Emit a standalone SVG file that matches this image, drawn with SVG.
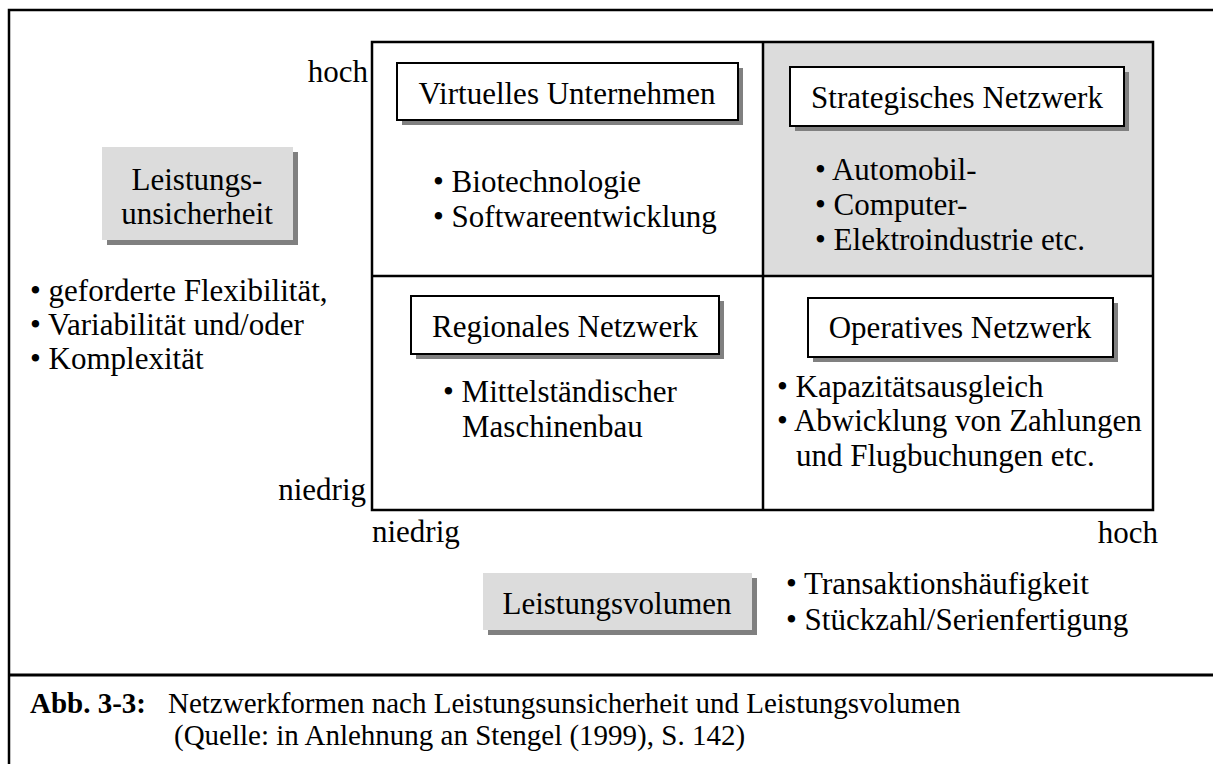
<svg xmlns="http://www.w3.org/2000/svg" width="1213" height="764" viewBox="0 0 1213 764">
<style>
text{font-family:"Liberation Serif","Times New Roman",serif;font-size:31px;fill:#000}
.c{text-anchor:middle}
.r{text-anchor:end}
.cap{font-size:29px}
.b{font-weight:bold}
.box{fill:#fff;stroke:#000;stroke-width:2}
.gbox{fill:#dcdcdc;stroke:none}
.sh{fill:#808080}
.ln{stroke:#000;stroke-width:2.5;fill:none}
</style>
<rect width="1213" height="764" fill="#fff"/>
<g id="frame">
<path class="ln" d="M9,764 V10 H1213"/>
<line x1="9" y1="675" x2="1213" y2="675" stroke="#000" stroke-width="3"/>
</g>
<g id="grid">
<rect x="763" y="42" width="390" height="234" fill="#dcdcdc"/>
<rect class="ln" x="372" y="42" width="781" height="468"/>
<line class="ln" x1="763" y1="42" x2="763" y2="510"/>
<line class="ln" x1="372" y1="276" x2="1153" y2="276"/>
</g>
<g id="axis-labels">
<text class="r" x="368" y="82">hoch</text>
<text class="r" x="366" y="500">niedrig</text>
<text x="372" y="542">niedrig</text>
<text class="r" x="1158" y="543">hoch</text>
</g>
<g id="leistungsunsicherheit">
<rect class="sh" x="107" y="152" width="191" height="93"/>
<rect class="gbox" x="102" y="147" width="191" height="93"/>
<text class="c" x="197" y="190">Leistungs-</text>
<text class="c" x="197" y="224">unsicherheit</text>
</g>
<g id="unsicherheit-list">
<text x="30" y="301">• geforderte Flexibilität,</text>
<text x="30" y="335">• Variabilität und/oder</text>
<text x="30" y="369">• Komplexität</text>
</g>
<g id="virtuelles-unternehmen">
<rect class="sh" x="402" y="68" width="341" height="57"/>
<rect class="box" x="397" y="63" width="341" height="57"/>
<text class="c" x="567" y="104">Virtuelles Unternehmen</text>
<text x="433" y="192">• Biotechnologie</text>
<text x="433" y="227">• Softwareentwicklung</text>
</g>
<g id="strategisches-netzwerk">
<rect class="sh" x="795" y="72" width="334" height="59"/>
<rect class="box" x="790" y="67" width="334" height="59"/>
<text class="c" x="957" y="108">Strategisches Netzwerk</text>
<text x="815" y="180">• Automobil-</text>
<text x="815" y="215">• Computer-</text>
<text x="815" y="250">• Elektroindustrie etc.</text>
</g>
<g id="regionales-netzwerk">
<rect class="sh" x="416" y="301" width="308" height="58"/>
<rect class="box" x="411" y="296" width="308" height="58"/>
<text class="c" x="565" y="337">Regionales Netzwerk</text>
<text x="443" y="402">• Mittelständischer</text>
<text x="462" y="437">Maschinenbau</text>
</g>
<g id="operatives-netzwerk">
<rect class="sh" x="813" y="303" width="305" height="59"/>
<rect class="box" x="808" y="298" width="305" height="59"/>
<text class="c" x="960" y="338">Operatives Netzwerk</text>
<text x="777" y="397">• Kapazitätsausgleich</text>
<text x="777" y="431">• Abwicklung von Zahlungen</text>
<text x="796" y="466">und Flugbuchungen etc.</text>
</g>
<g id="leistungsvolumen">
<rect class="sh" x="488" y="578" width="269" height="57"/>
<rect class="gbox" x="483" y="573" width="269" height="57"/>
<text class="c" x="617" y="614">Leistungsvolumen</text>
</g>
<g id="volumen-list">
<text x="786" y="594">• Transaktionshäufigkeit</text>
<text x="786" y="630">• Stückzahl/Serienfertigung</text>
</g>
<g id="caption">
<text class="cap" x="30" y="713"><tspan class="b">Abb. 3-3:</tspan><tspan x="168">Netzwerkformen nach Leistungsunsicherheit und Leistungsvolumen</tspan></text>
<text class="cap" x="174" y="745">(Quelle: in Anlehnung an Stengel (1999), S. 142)</text>
</g>
</svg>
